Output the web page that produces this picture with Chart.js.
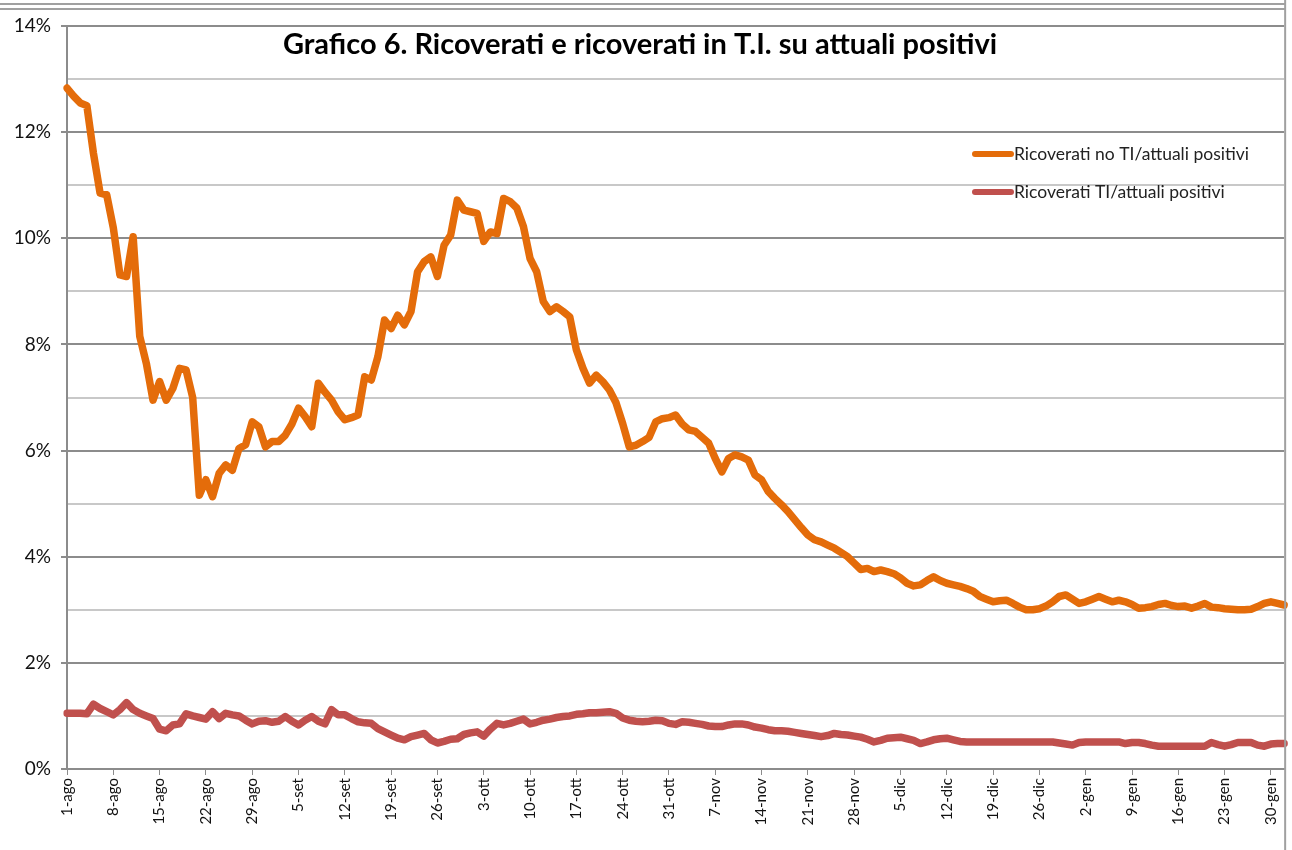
<!DOCTYPE html>
<html lang="it">
<head>
<meta charset="utf-8">
<title>Grafico 6</title>
<script src="https://cdn.jsdelivr.net/npm/chart.js@4.4.1/dist/chart.umd.min.js"></script>
<style>
    html, body { margin: 0; padding: 0; background: #fff; }
    #wrap { position: absolute; left: 0; top: 0; width: 1292px; height: 850px; }
</style>
</head>
<body>
<div id="wrap"><canvas id="grafico6" width="1292" height="850"></canvas></div>
<script>
// =======================================================
// DATI
// =======================================================
const TITOLO = 'Grafico 6. Ricoverati e ricoverati in T.I. su attuali positivi';
const mesi = ['gen', 'feb', 'mar', 'apr', 'mag', 'giu', 'lug', 'ago', 'set', 'ott', 'nov', 'dic'];
const dataInizio = [2020, 7, 1];   // 1-ago
const numeroGiorni = 185;           // 1-ago .. 1-feb
const passoEtichette = 7;
const yTicks = [0, 2, 4, 6, 8, 10, 12, 14];

const serieNomi = ['Ricoverati no TI/attuali positivi', 'Ricoverati TI/attuali positivi'];
const serieColori = ['#E46C0A', '#C0504D'];

// % ricoverati non in TI su attuali positivi
const ricoveratiNoTI = [
    12.83, 12.68, 12.55, 12.5, 11.6, 10.85, 10.82, 10.2, 9.31, 9.28,
    10.03, 8.15, 7.64, 6.95, 7.3, 6.95, 7.17, 7.55, 7.52, 7.0,
    5.16, 5.45, 5.13, 5.57, 5.73, 5.63, 6.04, 6.11, 6.54, 6.45,
    6.07, 6.17, 6.17, 6.29, 6.5, 6.8, 6.64, 6.45, 7.27, 7.1,
    6.95, 6.73, 6.58, 6.62, 6.67, 7.39, 7.33, 7.77, 8.46, 8.3,
    8.55, 8.37, 8.62, 9.37, 9.56, 9.65, 9.28, 9.87, 10.06, 10.72,
    10.53, 10.5, 10.47, 9.94, 10.12, 10.09, 10.75, 10.69, 10.57, 10.22,
    9.62, 9.37, 8.81, 8.62, 8.71, 8.62, 8.52, 7.9, 7.55, 7.27,
    7.42, 7.3, 7.14, 6.9, 6.51, 6.07, 6.1, 6.17, 6.25, 6.54,
    6.6, 6.62, 6.67, 6.5, 6.39, 6.36, 6.25, 6.14, 5.85, 5.6,
    5.85, 5.92, 5.88, 5.82, 5.54, 5.45, 5.23, 5.1, 4.98, 4.85,
    4.7, 4.55, 4.41, 4.32, 4.28, 4.22, 4.16, 4.08, 4.0, 3.88,
    3.76, 3.78, 3.72, 3.75, 3.72, 3.68, 3.6, 3.5, 3.45, 3.47,
    3.55, 3.62, 3.55, 3.5, 3.47, 3.44, 3.4, 3.35, 3.25, 3.2,
    3.15, 3.17, 3.18, 3.12, 3.05, 3.0, 3.0, 3.02, 3.07, 3.15,
    3.25, 3.28, 3.2, 3.12, 3.15, 3.2, 3.25, 3.2, 3.15, 3.18,
    3.15, 3.1, 3.03, 3.04, 3.06, 3.1, 3.12, 3.08, 3.06, 3.07,
    3.03, 3.07, 3.12, 3.05, 3.04, 3.02, 3.01, 3.0, 3.0, 3.01,
    3.06, 3.12, 3.15, 3.12, 3.09
];

// % ricoverati in TI su attuali positivi
const ricoveratiTI = [
    1.05, 1.05, 1.05, 1.04, 1.22, 1.14, 1.08, 1.02, 1.12, 1.25,
    1.12, 1.05, 1.0, 0.95, 0.75, 0.72, 0.83, 0.85, 1.04, 1.0,
    0.97, 0.94, 1.08, 0.95, 1.05, 1.02, 1.0, 0.92, 0.85, 0.9,
    0.91, 0.88, 0.9, 0.99, 0.9, 0.83, 0.92, 0.99, 0.9, 0.85,
    1.12, 1.02, 1.02, 0.95, 0.89, 0.87, 0.86, 0.76, 0.7, 0.64,
    0.58, 0.55, 0.61, 0.64, 0.67, 0.55, 0.49, 0.52, 0.56, 0.57,
    0.65, 0.68, 0.7, 0.62, 0.75, 0.86, 0.83, 0.86, 0.9, 0.94,
    0.85, 0.88, 0.92, 0.94, 0.97, 0.99, 1.0, 1.03, 1.04, 1.06,
    1.06, 1.07, 1.08, 1.05, 0.96, 0.92, 0.9, 0.89, 0.9, 0.92,
    0.91, 0.86, 0.84, 0.89, 0.88, 0.86, 0.84, 0.81, 0.8, 0.8,
    0.83, 0.85, 0.85, 0.83, 0.79, 0.77, 0.74, 0.72, 0.72, 0.71,
    0.69, 0.67, 0.65, 0.63, 0.61, 0.63, 0.67, 0.65, 0.64, 0.62,
    0.6, 0.56, 0.51, 0.54, 0.58, 0.59, 0.6, 0.57, 0.54, 0.48,
    0.51, 0.55, 0.57, 0.58, 0.55, 0.52, 0.51, 0.51, 0.51, 0.51,
    0.51, 0.51, 0.51, 0.51, 0.51, 0.51, 0.51, 0.51, 0.51, 0.51,
    0.49, 0.47, 0.45, 0.5, 0.51, 0.51, 0.51, 0.51, 0.51, 0.51,
    0.48, 0.5, 0.5, 0.48, 0.45, 0.43, 0.43, 0.43, 0.43, 0.43,
    0.43, 0.43, 0.43, 0.5, 0.46, 0.43, 0.46, 0.5, 0.5, 0.5,
    0.45, 0.43, 0.47, 0.48, 0.48
];

// =======================================================
// ETICHETTE (un giorno per categoria)
// =======================================================
function buildLabels() {
    const labels = [];
    const d = new Date(dataInizio[0], dataInizio[1], dataInizio[2]);
    for (let i = 0; i < numeroGiorni; i++) {
        labels.push(`${d.getDate()}-${mesi[d.getMonth()]}`);
        d.setDate(d.getDate() + 1);
    }
    return labels;
}

// =======================================================
// TITOLO, LEGENDA E CORNICE
// =======================================================
const decorPlugin = {
    id: 'decor',
    afterDraw(chart) {
        const ctx = chart.ctx;
        const area = chart.chartArea;
        ctx.save();

        // cornice esterna (bordo del grafico Excel)
        ctx.strokeStyle = '#a0a0a0';
        ctx.lineWidth = 2;
        ctx.beginPath();
        ctx.moveTo(0, 4); ctx.lineTo(area.right + 1, 4);
        ctx.moveTo(0, 9); ctx.lineTo(area.right + 1, 9);
        ctx.moveTo(area.right + 1, 0); ctx.lineTo(area.right + 1, chart.height);
        ctx.stroke();

        // titolo dentro l'area del grafico
        ctx.fillStyle = '#000';
        ctx.font = 'bold 29px Lato';
        ctx.textAlign = 'center';
        ctx.textBaseline = 'middle';
        ctx.fillText(TITOLO, 640, 45);

        // legenda
        ctx.font = '17.5px Lato';
        ctx.textAlign = 'left';
        chart.data.datasets.forEach((ds, i) => {
            const y = 154 + i * 38;
            ctx.strokeStyle = ds.borderColor;
            ctx.lineWidth = 6;
            ctx.lineCap = 'round';
            ctx.beginPath();
            ctx.moveTo(975, y);
            ctx.lineTo(1011, y);
            ctx.stroke();
            ctx.fillStyle = '#222';
            ctx.fillText(ds.label, 1014, y);
        });
        ctx.restore();
    }
};

// =======================================================
// GRAFICO
// =======================================================
function renderGrafico() {
    const ctx = document.getElementById('grafico6');
    const labels = buildLabels();
    const serie = [ricoveratiNoTI, ricoveratiTI];

    new Chart(ctx, {
        type: 'line',
        data: {
            labels: labels,
            datasets: serie.map((valori, i) => ({
                label: serieNomi[i],
                data: valori,
                borderColor: serieColori[i],
                backgroundColor: serieColori[i],
                borderWidth: 7.5,
                borderJoinStyle: 'round',
                borderCapStyle: 'round',
                pointRadius: 0,
                tension: 0,
                fill: false
            }))
        },
        options: {
            responsive: false,
            animation: false,
            layout: { padding: { top: 26, right: 7, left: 0, bottom: 0 } },
            plugins: {
                legend: { display: false },
                title: { display: false },
                tooltip: { enabled: false }
            },
            scales: {
                x: {
                    type: 'category',
                    offset: false,
                    afterFit: (scale) => { scale.height = 81; },
                    border: { color: '#8c8c8c', width: 2 },
                    grid: {
                        drawOnChartArea: false,
                        drawTicks: true,
                        tickLength: 6,
                        tickColor: '#8c8c8c'
                    },
                    ticks: {
                        autoSkip: false,
                        maxRotation: 90,
                        minRotation: 90,
                        padding: 3,
                        color: '#111',
                        font: { family: 'Lato', size: 15 },
                        callback: function (val, idx) {
                            return idx % passoEtichette === 0 ? this.getLabelForValue(val) : null;
                        }
                    }
                },
                y: {
                    min: yTicks[0],
                    max: yTicks[yTicks.length - 1],
                    afterFit: (scale) => { scale.width = 67; },
                    border: { color: '#8c8c8c', width: 2 },
                    grid: {
                        lineWidth: 2,
                        tickLength: 6,
                        color: (c) => yTicks.includes(c.tick.value) ? '#8c8c8c' : '#c8c8c8',
                        tickColor: (c) => yTicks.includes(c.tick.value) ? '#8c8c8c' : 'rgba(0,0,0,0)'
                    },
                    ticks: {
                        stepSize: 1,
                        padding: 10,
                        color: '#111',
                        font: { family: 'Lato', size: 19 },
                        callback: (v) => yTicks.includes(v) ? v + '%' : ''
                    }
                }
            }
        },
        plugins: [decorPlugin]
    });
}

renderGrafico();
</script>
</body>
</html>
